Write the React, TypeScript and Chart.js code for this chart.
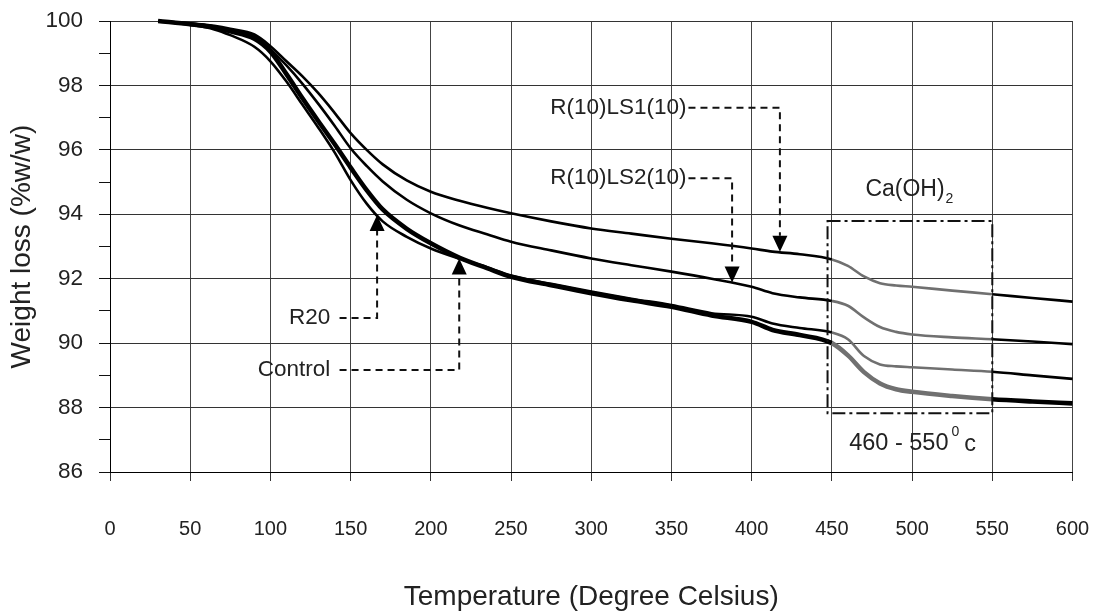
import React, { useEffect, useRef } from "react";
import { Chart, registerables } from "chart.js";

Chart.register(...registerables);

// Temperature grid (°C) on which every series is read
const temps = [30, 50, 65, 75, 90, 100, 110, 120, 130, 140, 150, 160, 170, 185, 200, 218, 235, 250, 275, 300, 325, 350, 375, 400, 413, 430, 450, 460, 470, 480, 490, 500, 525, 550, 575, 600];

// Weight (%w/w) for each sample
const ls1 = [100, 99.93, 99.85, 99.76, 99.58, 99.22, 98.75, 98.28, 97.75, 97.15, 96.52, 96.0, 95.55, 95.05, 94.7, 94.42, 94.2, 94.03, 93.78, 93.56, 93.4, 93.24, 93.1, 92.94, 92.84, 92.76, 92.6, 92.4, 92.07, 91.86, 91.79, 91.75, 91.63, 91.52, 91.4, 91.29];
const ls2 = [100, 99.92, 99.83, 99.73, 99.53, 99.12, 98.62, 98.05, 97.42, 96.75, 96.05, 95.5, 95.02, 94.45, 94.03, 93.65, 93.38, 93.15, 92.88, 92.63, 92.42, 92.22, 92.0, 91.75, 91.55, 91.42, 91.31, 91.16, 90.8, 90.5, 90.35, 90.27, 90.18, 90.12, 90.05, 89.97];
const control = [100, 99.9, 99.8, 99.68, 99.45, 99.05, 98.35, 97.6, 96.88, 96.18, 95.45, 94.75, 94.15, 93.55, 93.1, 92.65, 92.33, 92.06, 91.8, 91.55, 91.33, 91.13, 90.86, 90.66, 90.41, 90.25, 90.0, 89.62, 89.1, 88.75, 88.57, 88.49, 88.36, 88.26, 88.19, 88.13];
const r20 = [100, 99.88, 99.74, 99.56, 99.2, 98.75, 98.12, 97.4, 96.68, 95.92, 95.06, 94.33, 93.78, 93.3, 92.94, 92.62, 92.36, 92.1, 91.84, 91.6, 91.38, 91.18, 90.93, 90.82, 90.61, 90.47, 90.33, 90.12, 89.6, 89.34, 89.28, 89.25, 89.18, 89.11, 89.0, 88.89];

// Annotation labels (data coordinates)
const labelTexts = ["R(10)LS1(10)", "R(10)LS2(10)", "R20", "Control"];
const labelAnchorT = [359.4, 359.4, 137.3, 137.3];
const labelAnchorV = [97.31, 95.12, 90.78, 89.17];
const leaderStartT = [360.6, 360.6, 143.1, 143.1];
const leaderBendT = [417.6, 387.8, 166.5, 217.7];
const leaderTipV = [92.84, 91.88, 93.98, 92.63];

// Ca(OH)2 decomposition window
const boxT = [447.3, 550];
const boxV = [87.82, 93.79];
const caohLabelAt = [470.9, 94.75];
const rangeLabelAt = [460.8, 86.87];

const FONT = "'Liberation Sans', Arial, sans-serif";

const toXY = (vals: number[]) => vals.map((v, i) => ({ x: temps[i], y: v }));

const inBox = (ctx: any) => ctx.p0.parsed.x >= boxT[0] - 1 && ctx.p1.parsed.x <= boxT[1] + 1;

const annotationPlugin = {
  id: "tgaAnnotations",
  afterDatasetsDraw(chart: any) {
    const { ctx, scales } = chart;
    const X = (t: number) => scales.x.getPixelForValue(t);
    const Y = (v: number) => scales.y.getPixelForValue(v);
    ctx.save();
    // box
    ctx.strokeStyle = "#111";
    ctx.lineWidth = 2;
    ctx.setLineDash([13, 4, 3, 4]);
    ctx.strokeRect(X(boxT[0]), Y(boxV[1]), X(boxT[1]) - X(boxT[0]), Y(boxV[0]) - Y(boxV[1]));

    // leaders
    for (let i = 0; i < labelTexts.length; i++) {
      const yStart = Y(labelAnchorV[i]);
      const xb = X(leaderBendT[i]);
      const yTip = Y(leaderTipV[i]);
      const dir = yTip > yStart ? 1 : -1; // 1 = down
      const ah = 16;
      const aw = 7.5;
      ctx.setLineDash([7, 5]);
      ctx.lineWidth = 2;
      ctx.strokeStyle = "#111";
      ctx.beginPath();
      ctx.moveTo(X(leaderStartT[i]), yStart);
      ctx.lineTo(xb, yStart);
      ctx.lineTo(xb, yTip - dir * ah);
      ctx.stroke();
      ctx.setLineDash([]);
      ctx.fillStyle = "#000";
      ctx.beginPath();
      ctx.moveTo(xb, yTip);
      ctx.lineTo(xb - aw, yTip - dir * ah);
      ctx.lineTo(xb + aw, yTip - dir * ah);
      ctx.closePath();
      ctx.fill();

      ctx.font = `22.5px ${FONT}`;
      ctx.fillStyle = "#222";
      ctx.textAlign = "right";
      ctx.textBaseline = "middle";
      ctx.fillText(labelTexts[i], X(labelAnchorT[i]), Y(labelAnchorV[i]));
    }

    // Ca(OH)2
    ctx.textAlign = "left";
    ctx.textBaseline = "middle";
    ctx.fillStyle = "#222";
    ctx.font = `23px ${FONT}`;
    const cx = X(caohLabelAt[0]);
    const cy = Y(caohLabelAt[1]);
    ctx.fillText("Ca(OH)", cx, cy);
    const w1 = ctx.measureText("Ca(OH)").width;
    ctx.font = `14px ${FONT}`;
    ctx.fillText("2", cx + w1 + 1, cy + 9);

    // 460 - 550 0c
    ctx.font = `23.5px ${FONT}`;
    const rx = X(rangeLabelAt[0]);
    const ry = Y(rangeLabelAt[1]);
    ctx.fillText("460 - 550", rx, ry);
    const w2 = ctx.measureText("460 - 550").width;
    ctx.font = `14px ${FONT}`;
    ctx.fillText("0", rx + w2 + 3, ry - 12);
    const w3 = ctx.measureText("0").width;
    ctx.font = `23.5px ${FONT}`;
    ctx.fillText("c", rx + w2 + 3 + w3 + 5, ry + 1);
    ctx.restore();
  },
};

const mkDataset = (label: string, vals: number[], width: number) => ({
  label,
  data: toXY(vals),
  borderColor: "#000",
  borderWidth: width,
  pointRadius: 0,
  fill: false,
  cubicInterpolationMode: "monotone" as const,
  clip: false as any,
  segment: {
    borderColor: (ctx: any) => (inBox(ctx) ? "#707070" : undefined),
  },
});

export default function App() {
  const ref = useRef<HTMLCanvasElement | null>(null);
  useEffect(() => {
    if (!ref.current) return;
    const chart = new Chart(ref.current, {
      type: "line",
      data: {
        datasets: [
          mkDataset("R(10)LS1(10)", ls1, 2.6),
          mkDataset("R(10)LS2(10)", ls2, 2.6),
          mkDataset("R20", r20, 2.6),
          mkDataset("Control", control, 4.6),
        ],
      },
      options: {
        animation: false,
        responsive: true,
        maintainAspectRatio: false,
        layout: { padding: { left: 0, top: 21, right: 26.5, bottom: 0 } },
        plugins: { legend: { display: false }, tooltip: { enabled: false } },
        scales: {
          x: {
            type: "linear",
            min: 0,
            max: 600,
            ticks: { stepSize: 50, padding: 0, color: "#222", font: { size: 20, family: FONT, lineHeight: 4.8 } },
            grid: { color: "#444", lineWidth: 1, tickLength: 9, tickColor: "#333" },
            border: { color: "#000", width: 1 },
            title: {
              display: true,
              text: "Temperature (Degree Celsius)",
              color: "#222",
              font: { size: 28, family: FONT },
              padding: { top: 0, bottom: 1 },
            },
            afterFit: (s: any) => {
              s.height = 143;
            },
          },
          y: {
            min: 86,
            max: 100,
            ticks: {
              stepSize: 1,
              autoSkip: false,
              padding: 16,
              color: "#222",
              font: { size: 22.5, family: FONT, lineHeight: 0.44 },
              callback: (v: any) => (Number(v) % 2 === 0 ? String(v) : ""),
            },
            grid: {
              color: (c: any) => (c.tick && c.tick.value % 2 === 0 ? "#333" : "rgba(0,0,0,0)"),
              lineWidth: 1,
              tickLength: 11,
              tickColor: "#111",
            },
            border: { color: "#000", width: 1 },
            title: {
              display: true,
              text: "Weight loss (%w/w)",
              color: "#222",
              font: { size: 28, family: FONT },
              padding: { top: 5, bottom: 0 },
            },
            afterFit: (s: any) => {
              s.width = 110;
            },
          },
        },
      },
      plugins: [annotationPlugin],
    });
    return () => chart.destroy();
  }, []);
  return (
    <div style={{ position: "absolute", left: 0, top: 0, width: 1099, height: 615, background: "#fff" }}>
      <canvas ref={ref} />
    </div>
  );
}
